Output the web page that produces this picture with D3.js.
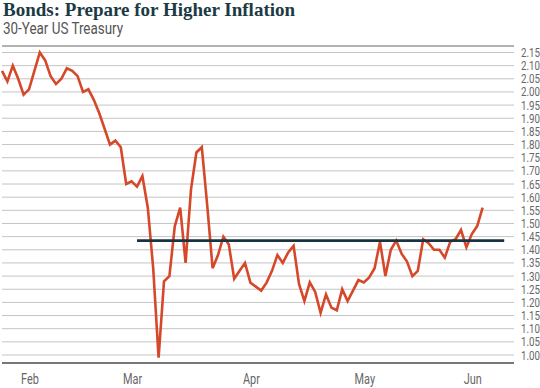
<!DOCTYPE html>
<html>
<head>
<meta charset="utf-8">
<script src="https://cdn.jsdelivr.net/npm/d3@7"></script>
<style>
  html, body { margin: 0; padding: 0; background: #fff; }
  #chart { width: 540px; height: 388px; }
  .title { font-family: 'Liberation Serif', 'DejaVu Serif', serif; font-weight: bold; font-size: 19px; fill: #1c3a44; }
  .subtitle { font-family: 'Roboto', sans-serif; font-size: 17px; fill: #555; }
  .tick-label { font-family: 'Roboto', sans-serif; font-size: 12.5px; fill: #666; }
</style>
</head>
<body>
<div id="chart"></div>
<script>
'use strict';

// 30-year US Treasury yield, one value per trading day (late Jan to early Jun)
const YIELDS = [
  2.08, 2.04, 2.10, 2.05, 1.99,                                  // Jan
  2.01, 2.08, 2.15, 2.12, 2.06, 2.03, 2.05, 2.09, 2.08, 2.06,    // Feb
  2.00, 2.01, 1.97, 1.92, 1.86, 1.80, 1.815, 1.79, 1.65,
  1.66, 1.64, 1.68, 1.56, 1.33, 0.99, 1.28, 1.30, 1.49, 1.56,    // Mar
  1.35, 1.63, 1.77, 1.79, 1.57, 1.33, 1.38, 1.45, 1.42, 1.29,
  1.32, 1.35,
  1.275, 1.26, 1.245, 1.275, 1.32, 1.38, 1.35, 1.39, 1.415,      // Apr
  1.27, 1.205, 1.276, 1.24, 1.16, 1.23, 1.18, 1.17, 1.25, 1.205,
  1.245, 1.285,
  1.276, 1.295, 1.33, 1.43, 1.30, 1.40, 1.435, 1.385, 1.355,     // May
  1.30, 1.32, 1.44, 1.425, 1.40, 1.40, 1.37, 1.43, 1.44, 1.475,
  1.41,
  1.46, 1.49, 1.56                                               // Jun
];

// first trading day of each month (index into YIELDS) and its label
const MONTH_INDEX  = [5, 24, 46, 67, 87];
const MONTH_LABELS = ['Feb', 'Mar', 'Apr', 'May', 'Jun'];

// y-axis ticks
const Y_TICKS = d3.range(0, 24).map(i => +(1 + i * 0.05).toFixed(2));

// reference level drawn as a flat line
const REF_LEVEL = 1.435;
const REF_SPAN  = [25, 93];   // start / end, in trading-day index

const W = 540, H = 388;
const NARROW = 0.78;   // horizontal squeeze to mimic the condensed face

const svg = d3.select('#chart').append('svg')
  .attr('width', W).attr('height', H);

const x = d3.scaleLinear().domain([0, YIELDS.length - 1]).range([2, 482.6]);
const y = d3.scaleLinear().domain([1.00, 2.15]).range([355, 52.5]);

// Titles
svg.append('text').attr('class', 'title')
  .attr('x', 3).attr('y', 16)
  .text('Bonds: Prepare for Higher Inflation');
svg.append('text').attr('class', 'subtitle')
  .attr('transform', `translate(3,34) scale(0.79,1)`)
  .text('30-Year US Treasury');

// Grid lines + right-hand labels
const grid = svg.append('g');
grid.selectAll('line')
  .data(Y_TICKS)
  .join('line')
  .attr('x1', 2).attr('x2', 514)
  .attr('y1', d => y(d)).attr('y2', d => y(d))
  .attr('stroke', '#c4c4c4').attr('stroke-width', 1);

grid.selectAll('text')
  .data(Y_TICKS)
  .join('text')
  .attr('class', 'tick-label')
  .attr('transform', d => `translate(521,${y(d) + 4.5}) scale(${NARROW},1)`)
  .text(d => d3.format('.2f')(d));

// frame lines top / bottom
svg.append('line')
  .attr('x1', 2).attr('x2', 514).attr('y1', 46).attr('y2', 46)
  .attr('stroke', '#999').attr('stroke-width', 1.5);
svg.append('line')
  .attr('x1', 2).attr('x2', 514).attr('y1', 363).attr('y2', 363)
  .attr('stroke', '#777').attr('stroke-width', 2);

// Month labels
svg.append('g').selectAll('text')
  .data(MONTH_INDEX)
  .join('text')
  .attr('class', 'tick-label')
  .attr('transform', d => `translate(${x(d) + 1},384) scale(${NARROW},1)`)
  .attr('text-anchor', 'middle')
  .style('font-size', '14px')
  .text((d, i) => MONTH_LABELS[i]);

// Yield line
const line = d3.line()
  .x((d, i) => x(i))
  .y(d => y(d));

svg.append('path')
  .datum(YIELDS)
  .attr('fill', 'none')
  .attr('stroke', '#d6482a')
  .attr('stroke-width', 2.6)
  .attr('stroke-linejoin', 'miter')
  .attr('d', line);

// Reference line
svg.append('line')
  .attr('x1', x(REF_SPAN[0])).attr('x2', x(REF_SPAN[1]))
  .attr('y1', y(REF_LEVEL)).attr('y2', y(REF_LEVEL))
  .attr('stroke', '#173440').attr('stroke-width', 2.8);
</script>
</body>
</html>
